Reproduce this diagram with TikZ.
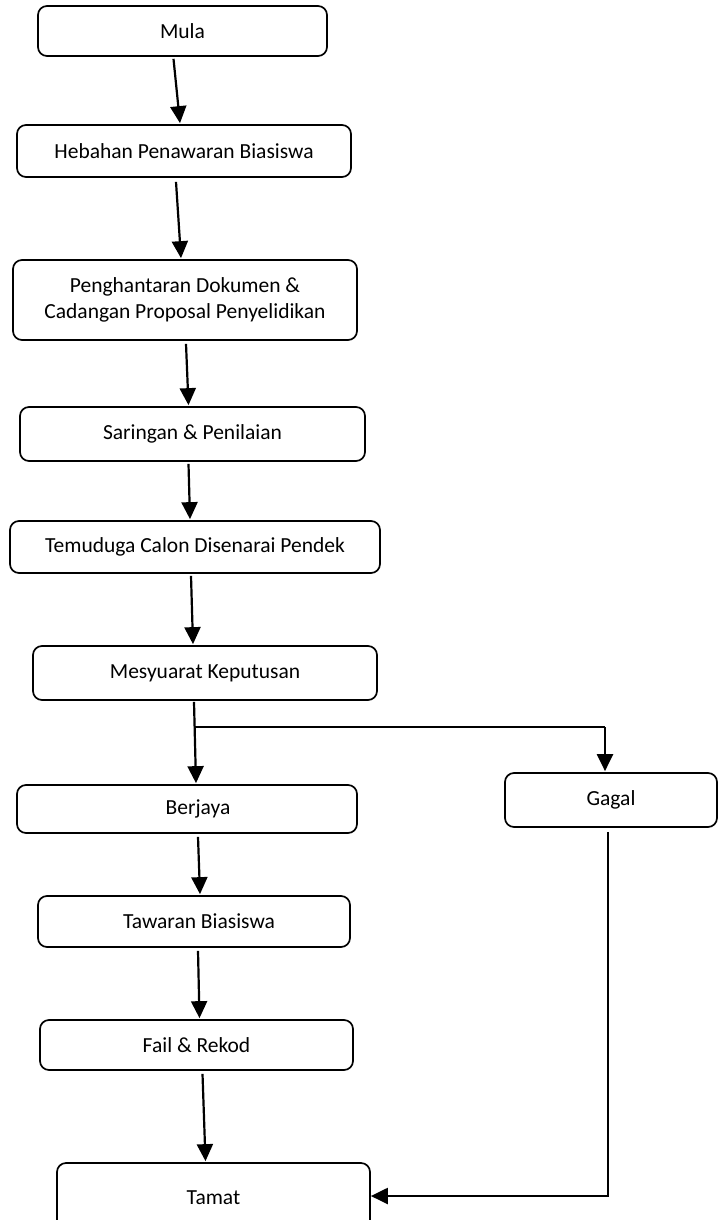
\documentclass[tikz,border=0pt]{standalone}
\usepackage{fontspec}
\setmainfont{Carlito}
\usetikzlibrary{arrows.meta,calc}
\begin{document}
\begin{tikzpicture}[x=1pt,y=-1pt,
  box/.style={draw=black, line width=1.7pt, rounded corners=9pt, font=\fontsize{21.5}{26}\selectfont, align=center, inner sep=0pt},
  arr/.style={line width=2.2pt, -{Triangle[length=17pt,width=16pt]}},
  ln/.style={line width=2.2pt}]
\useasboundingbox (0,0) rectangle (718,1220);
\node[box, minimum width=289pt, minimum height=50pt] (mula) at (182.5,31) {\raisebox{-4pt}{Mula}};
\node[box, minimum width=334pt, minimum height=52pt] (heb) at (184,151) {\raisebox{-2pt}{Hebahan Penawaran Biasiswa}};
\node[box, minimum width=344pt, minimum height=80pt] (hantar) at (185,300) {Penghantaran Dokumen \&\\Cadangan Proposal Penyelidikan};
\node[box, minimum width=345pt, minimum height=54pt] (saring) at (192.5,434) {Saringan \& Penilaian};
\node[box, minimum width=370pt, minimum height=52pt] (temu) at (195,547) {Temuduga Calon Disenarai Pendek};
\node[box, minimum width=344pt, minimum height=54pt] (mesy) at (205,673) {Mesyuarat Keputusan};
\node[box, minimum width=340pt, minimum height=48pt] (berjaya) at (187,809) {\hspace*{22pt}Berjaya};
\node[box, minimum width=212pt, minimum height=54pt] (gagal) at (611,800) {Gagal};
\node[box, minimum width=312pt, minimum height=51pt] (tawar) at (194,921.5) {\hspace*{10pt}Tawaran Biasiswa};
\node[box, minimum width=313pt, minimum height=50pt] (fail) at (196.5,1045) {Fail \& Rekod};
\node[box, minimum width=313pt, minimum height=70pt] (tamat) at (213.5,1198) {Tamat};

\draw[arr] ($(mula.south)+(-9,2)$) -- ($(heb.north)+(-4,-1)$);
\draw[arr] ($(heb.south)+(-8,4)$) -- ($(hantar.north)+(-4,-1)$);
\draw[arr] ($(hantar.south)+(1,3)$) -- ($(saring.north)+(-4,-1)$);
\draw[arr] ($(saring.south)+(-4,2)$) -- ($(temu.north)+(-5,-1)$);
\draw[arr] ($(temu.south)+(-4,2)$) -- ($(mesy.north)+(-12,-1)$);
\draw[arr] ($(mesy.south)+(-11,1)$) -- ($(berjaya.north)+(9,-1)$);
\coordinate (br1) at (194,727);
\coordinate (br2) at (605,727);
\draw[ln] (br1) -- (br2);
\draw[arr] (br2) -- ($(gagal.north)+(-6,-1)$);
\draw[arr] ($(berjaya.south)+(11,3)$) -- ($(tawar.north)+(6,-1)$);
\draw[arr] ($(tawar.south)+(4,3)$) -- ($(fail.north)+(3,-1)$);
\draw[arr] ($(fail.south)+(6,3)$) -- ($(tamat.north)+(-8,-1)$);
\coordinate (gc) at (608,1196);
\draw[arr] ($(gagal.south)+(-3,4)$) -- (gc) -- (tamat.east |- gc);
\end{tikzpicture}
\end{document}
